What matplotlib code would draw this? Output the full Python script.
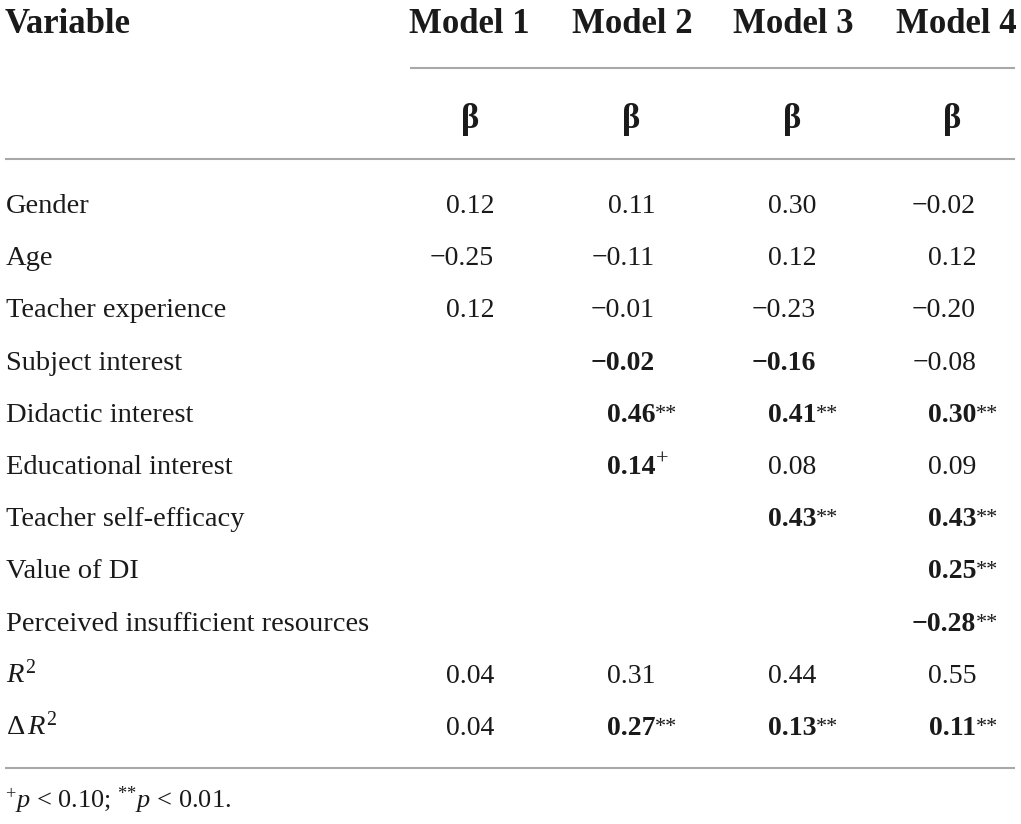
import matplotlib.pyplot as plt

plt.rcParams['font.family'] = ['Liberation Serif', 'DejaVu Serif']
plt.rcParams['mathtext.fontset'] = 'custom'
plt.rcParams['mathtext.rm'] = 'Liberation Serif'
plt.rcParams['mathtext.it'] = 'Liberation Serif:italic'
plt.rcParams['mathtext.bf'] = 'Liberation Serif:bold'

# Table content
header_left = "Variable"
models = ["Model 1", "Model 2", "Model 3", "Model 4"]
coef_label = "\u03b2"
variables = ["Gender", "Age", "Teacher experience", "Subject interest",
             "Didactic interest", "Educational interest", "Teacher self-efficacy",
             "Value of DI", "Perceived insufficient resources",
             r"$R^{2}$", r"$\Delta\,R^{2}$"]

m1_vals = [0.12, -0.25, 0.12, None, None, None, None, None, None, 0.04, 0.04]
m2_vals = [0.11, -0.11, -0.01, -0.02, 0.46, 0.14, None, None, None, 0.31, 0.27]
m3_vals = [0.30, 0.12, -0.23, -0.16, 0.41, 0.08, 0.43, None, None, 0.44, 0.13]
m4_vals = [-0.02, 0.12, -0.20, -0.08, 0.30, 0.09, 0.43, 0.25, -0.28, 0.55, 0.11]

m1_sig = ["", "", "", "", "", "", "", "", "", "", ""]
m2_sig = ["", "", "", "", "**", "+", "", "", "", "", "**"]
m3_sig = ["", "", "", "", "**", "", "**", "", "", "", "**"]
m4_sig = ["", "", "", "", "**", "", "**", "**", "**", "", "**"]

m1_bold = [0, 0, 0, 0, 0, 0, 0, 0, 0, 0, 0]
m2_bold = [0, 0, 0, 1, 1, 1, 0, 0, 0, 0, 1]
m3_bold = [0, 0, 0, 1, 1, 0, 1, 0, 0, 0, 1]
m4_bold = [0, 0, 0, 0, 1, 0, 1, 1, 1, 0, 1]

footnote = r"$^{+}p$ < 0.10; $^{{*}{*}}p$ < 0.01."

# Layout (pixel coordinates, y downwards)
W, H = 1021, 824
header_centers = [469, 632, 793, 956]
beta_centers = [470, 631, 792, 952]
num_right = [494, 655, 816, 976]
row0 = 213
row_step = 52.2
ink = '#1a1a1a'
rule = '#a8a8a8'

fig = plt.figure(figsize=(W / 100, H / 100), dpi=100)
ax = fig.add_axes([0, 0, 1, 1])
ax.set_xlim(0, W)
ax.set_ylim(H, 0)
ax.axis('off')

# header
ax.text(5, 33, header_left, fontsize=25, fontweight='bold', color=ink, va='baseline', ha='left')
for xc, name in zip(header_centers, models):
    ax.text(xc, 33, name, fontsize=25, fontweight='bold', color=ink, va='baseline', ha='center')
ax.plot([410, 1015], [68, 68], color=rule, lw=1.5, solid_capstyle='butt')
for xc in beta_centers:
    ax.text(xc, 128, coef_label, fontsize=25, fontweight='bold', color=ink, va='baseline', ha='center')
ax.plot([5, 1015], [159, 159], color=rule, lw=1.5, solid_capstyle='butt')

# body rows
columns = [(m1_vals, m1_sig, m1_bold), (m2_vals, m2_sig, m2_bold),
           (m3_vals, m3_sig, m3_bold), (m4_vals, m4_sig, m4_bold)]

for i, var in enumerate(variables):
    yb = row0 + i * row_step
    ax.text(6, yb, var, fontsize=20.5, color=ink, va='baseline', ha='left')
    for (vals, sigs, bolds), xr in zip(columns, num_right):
        v = vals[i]
        if v is None:
            continue
        s = f"{v:.2f}".replace("-", "\u2212")
        w = 'bold' if bolds[i] else 'normal'
        ax.text(xr, yb, s, fontsize=20, fontweight=w, color=ink, va='baseline', ha='right')
        if sigs[i] == "**":
            ax.text(xr, yb - 3, "**", fontsize=16, color=ink, va='baseline', ha='left')
        elif sigs[i] == "+":
            ax.text(xr + 1, yb - 9, "+", fontsize=16, color=ink, va='baseline', ha='left')

ax.plot([5, 1015], [768, 768], color=rule, lw=1.5, solid_capstyle='butt')
ax.text(5, 808, footnote, fontsize=19, color=ink, va='baseline', ha='left')

fig.savefig('out.png', dpi=100, facecolor='white')
